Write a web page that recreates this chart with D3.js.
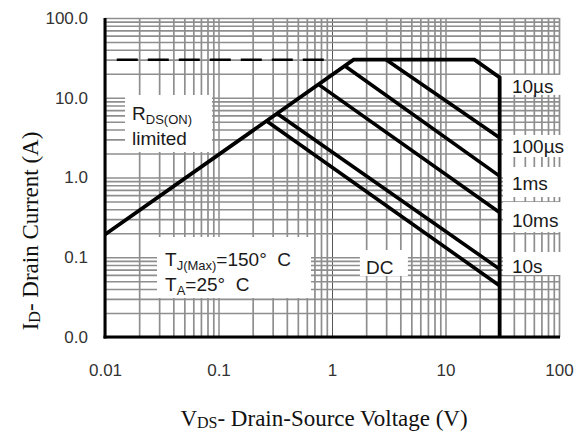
<!DOCTYPE html>
<html>
<head>
<meta charset="utf-8">
<script src="https://cdn.jsdelivr.net/npm/d3@7"></script>
<style>
  body { margin: 0; background: #fff; }
  .grid line { stroke: #8e8e8e; stroke-width: 1.7; }
  .grid line.decade { stroke: #555; stroke-width: 1; }
  .tick-label text { font-family: "Liberation Sans", Arial, sans-serif; font-size: 17px; fill: #333; }
  .note { font-family: "Liberation Sans", Arial, sans-serif; font-size: 19px; fill: #1a1a1a; }
  .title { font-family: "Liberation Serif", "Times New Roman", serif; font-size: 23px; fill: #111; }
</style>
</head>
<body>
<div id="container"></div>
<script>
// tick values and labels
const xTicks = [0.01, 0.1, 1, 10, 100];
const xTickLabels = ["0.01", "0.1", "1", "10", "100"];
const yTicks = [0.01, 0.1, 1, 10, 100];
const yTickLabels = ["0.0", "0.1", "1.0", "10.0", "100.0"];

// safe operating area envelope (V, A)
const limitV = [0.01, 1.55, 18, 30, 30];
const limitI = [0.193, 30, 30, 18, 0.01];

// dashed package limit
const dashV = [0.0127, 1.0];
const dashI = [30, 30];

// pulse lines
const pulseNames = ["10µs", "100µs", "1ms", "10ms", "DC"];
const pulseStartV = [3.0, 1.3, 0.77, 0.33, 0.265];
const pulseStartI = [30, 25, 14.5, 6.3, 5.1];
const pulseEndV = [30, 30, 30, 30, 30];
const pulseEndI = [3.16, 1.04, 0.365, 0.071, 0.044];

// right side labels
const sideLabels = ["10µs", "100µs", "1ms", "10ms", "10s"];
const sideLabelI = [11.5, 2.03, 0.697, 0.239, 0.0635];

const w = 584;
const h = 439;

const xScale = d3.scaleLog().domain([0.01, 100]).range([105, 559]);
const yScale = d3.scaleLog().domain([0.01, 100]).range([337, 18]);

const svg = d3.select("#container")
              .append("svg")
              .attr("width", w)
              .attr("height", h);

const isDecade = (d) => Math.abs(Math.log10(d) - Math.round(Math.log10(d))) < 1e-9;
const plotH = yScale.range()[0] - yScale.range()[1];
const plotW = xScale.range()[1] - xScale.range()[0];

// grid
svg.append("g")
   .attr("class", "grid")
   .attr("transform", "translate(0," + yScale.range()[0] + ")")
   .call(d3.axisBottom(xScale).tickSize(-plotH).tickFormat(""))
   .call(g => g.select(".domain").remove())
   .selectAll("line")
   .attr("class", (d) => (isDecade(d) && d > 0.01 && d < 100) ? "decade" : null);

svg.append("g")
   .attr("class", "grid")
   .attr("transform", "translate(" + xScale.range()[0] + ",0)")
   .call(d3.axisLeft(yScale).tickSize(-plotW).tickFormat(""))
   .call(g => g.select(".domain").remove());

// notes with white boxes
const notes = [
  {v: 0.0173, i: 5.26, box: [-7, -25, 87, 57], lines: [["R", "DS(ON)"], ["limited", ""]]},
  {v: 0.0338, i: 0.0776, box: [-8, -29, 154, 61], lines: [["T", "J(Max)", "=150°\u00a0 C"], ["T", "A", "=25°\u00a0 C"]]},
  {v: 1.99, i: 0.0617, box: [-6, -24, 48, 26], lines: [["DC", ""]]}
];
const sideBoxes = [[-18, 20], [-18, 22], [-23, 30], [-25, 30], [-21, 23]];

sideLabels.forEach(function(s, k){
  notes.push({v: 38.5, i: sideLabelI[k], box: [-9, sideBoxes[k][0], 59, sideBoxes[k][1]], lines: [[s, ""]]});
});

const boxLayer = svg.append("g");
const lineLayer = svg.append("g");
const textLayer = svg.append("g");

notes.forEach(function(n){
  const px = xScale(n.v);
  const py = yScale(n.i);
  boxLayer.append("rect")
     .attr("x", px + n.box[0])
     .attr("y", py + n.box[1])
     .attr("width", n.box[2])
     .attr("height", n.box[3])
     .attr("fill", "#fff");
  n.lines.forEach(function(parts, li){
    const t = textLayer.append("text")
       .attr("class", "note")
       .attr("x", px)
       .attr("y", py + li * 25);
    t.append("tspan").text(parts[0]);
    if (parts[1]) {
      t.append("tspan").attr("dy", 4).style("font-size", "13px").text(parts[1]);
    }
    if (parts[2]) {
      t.append("tspan").attr("dy", -4).text(parts[2]);
    }
  });
});

// lines
const line = d3.line().x((d) => xScale(d[0])).y((d) => yScale(d[1]));

lineLayer.append("path")
   .datum(d3.zip(dashV, dashI))
   .attr("d", line)
   .attr("fill", "none")
   .attr("stroke", "#000")
   .attr("stroke-width", 2.6)
   .attr("stroke-dasharray", "21,10");

pulseNames.forEach(function(name, k){
  lineLayer.append("path")
     .datum([[pulseStartV[k], pulseStartI[k]], [pulseEndV[k], pulseEndI[k]]])
     .attr("d", line)
     .attr("fill", "none")
     .attr("stroke", "#000")
     .attr("stroke-width", 3.6);
});

lineLayer.append("path")
   .datum(d3.zip(limitV, limitI))
   .attr("d", line)
   .attr("fill", "none")
   .attr("stroke", "#000")
   .attr("stroke-width", 3.8)
   .attr("stroke-linejoin", "miter");

// axis lines
svg.append("line")
   .attr("x1", xScale(0.01)).attr("x2", xScale(0.01))
   .attr("y1", yScale(100)).attr("y2", yScale(0.01) + 1.5)
   .attr("stroke", "#000").attr("stroke-width", 3);
svg.append("line")
   .attr("x1", xScale(0.01) - 1.5).attr("x2", xScale(100) + 1)
   .attr("y1", yScale(0.01)).attr("y2", yScale(0.01))
   .attr("stroke", "#000").attr("stroke-width", 2.8);

// tick labels
svg.append("g")
   .attr("class", "tick-label")
   .attr("transform", "translate(0," + yScale.range()[0] + ")")
   .call(d3.axisBottom(xScale).tickValues(xTicks).tickSize(0).tickPadding(27)
           .tickFormat((d, k) => xTickLabels[k]))
   .call(g => g.select(".domain").remove());

svg.append("g")
   .attr("class", "tick-label")
   .attr("transform", "translate(" + xScale.range()[0] + ",0)")
   .call(d3.axisLeft(yScale).tickValues(yTicks).tickSize(0).tickPadding(17)
           .tickFormat((d, k) => yTickLabels[k]))
   .call(g => g.select(".domain").remove());

// axis titles
const xt = svg.append("text")
   .attr("class", "title")
   .attr("x", 324)
   .attr("y", 426)
   .attr("text-anchor", "middle");
xt.append("tspan").text("V");
xt.append("tspan").attr("dy", 2).style("font-size", "16px").text("DS");
xt.append("tspan").attr("dy", -2).text("- Drain-Source Voltage (V)");

const yt = svg.append("text")
   .attr("class", "title")
   .attr("transform", "translate(38,231) rotate(-90)")
   .attr("text-anchor", "middle");
yt.append("tspan").text("I");
yt.append("tspan").attr("dy", 2).style("font-size", "16px").text("D");
yt.append("tspan").attr("dy", -2).text("- Drain Current (A)");
</script>
</body>
</html>
